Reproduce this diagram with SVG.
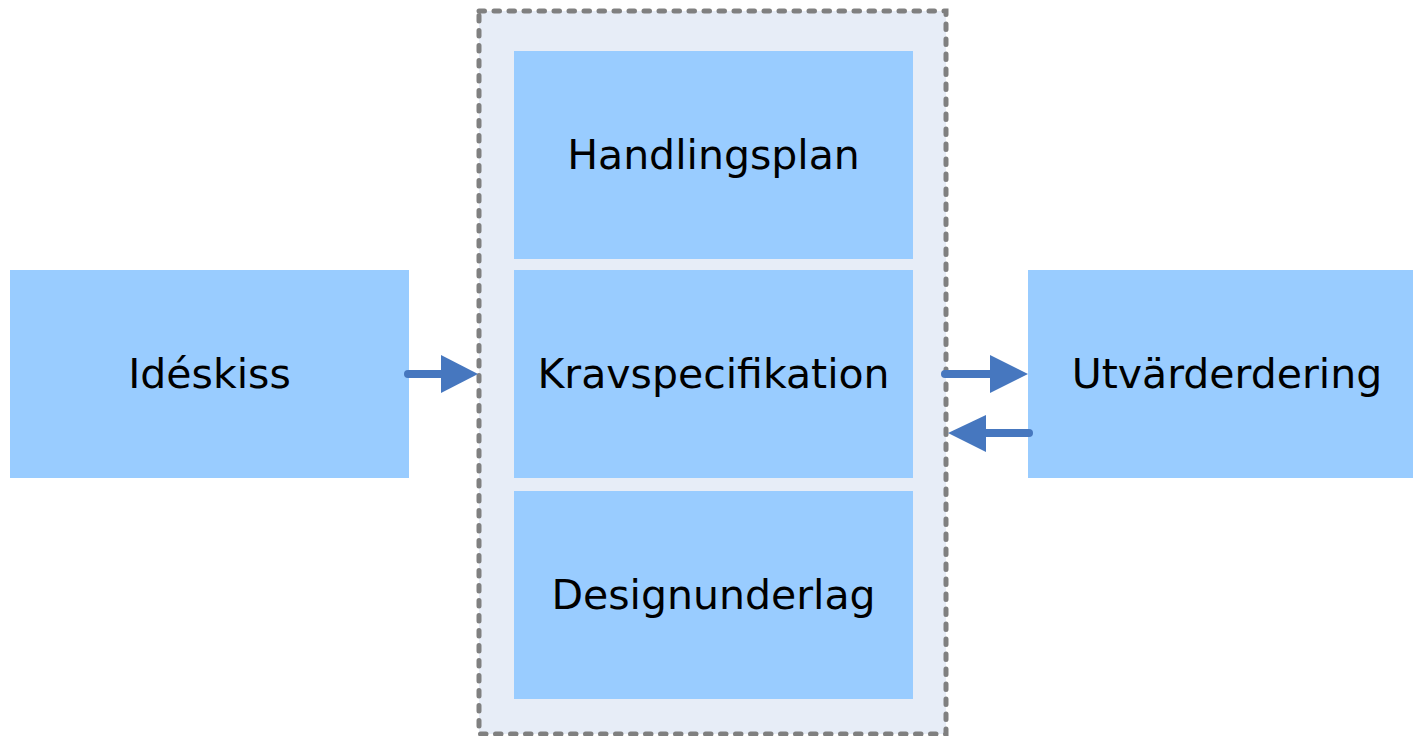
<svg xmlns="http://www.w3.org/2000/svg" width="1413" height="736" viewBox="0 0 1413 736">
<style>
.box{fill:#99CCFF}
.lbl{font-family:"DejaVu Sans",sans-serif;font-size:41px;fill:#000;text-anchor:middle}
.ln{stroke:#4677BF;stroke-width:8;stroke-linecap:round;fill:none}
.hd{fill:#4677BF}
</style>
<rect width="1413" height="736" fill="#fff"/>
<g id="container">
<rect x="479" y="11" width="467" height="723" fill="#E7EDF7" stroke="#808080" stroke-width="5" stroke-dasharray="5.5 9.5" stroke-linecap="round"/>
</g>
<g id="handlingsplan"><rect class="box" x="514" y="51" width="399" height="208"/><text class="lbl" x="713.5" y="169">Handlingsplan</text></g>
<g id="kravspecifikation"><rect class="box" x="514" y="270" width="399" height="208"/><text class="lbl" x="713.5" y="388">Kravspecifikation</text></g>
<g id="designunderlag"><rect class="box" x="514" y="491" width="399" height="208"/><text class="lbl" x="713.5" y="609">Designunderlag</text></g>
<g id="ideskiss"><rect class="box" x="10" y="270" width="399" height="208"/><text class="lbl" x="209.5" y="388">Idéskiss</text></g>
<g id="utvarderdering"><rect class="box" x="1028" y="270" width="385" height="208"/><text class="lbl" x="1227" y="388">Utvärderdering</text></g>
<g id="connectors">
<line class="ln" x1="408" y1="374" x2="445" y2="374"/><polygon class="hd" points="441,355 478,374 441,393"/>
<line class="ln" x1="945" y1="374" x2="994" y2="374"/><polygon class="hd" points="990,355 1028,374 990,393"/>
<line class="ln" x1="1029" y1="433" x2="982" y2="433"/><polygon class="hd" points="986,415 948,433 986,452"/>
</g>
</svg>
